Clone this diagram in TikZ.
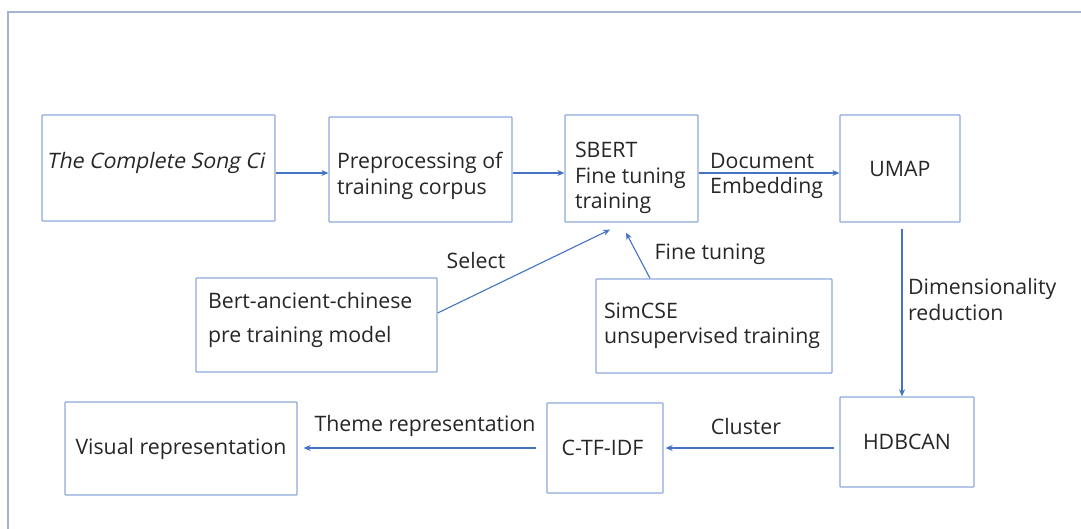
\documentclass[tikz,border=0pt]{standalone}
\usepackage{fontspec}
\setmainfont{Open Sans}
\newfontfamily\slantfont[FakeSlant=0.2]{Open Sans}
\usetikzlibrary{arrows.meta}
\definecolor{boxc}{HTML}{8EA9DB}
\definecolor{arrc}{HTML}{4472C4}
\definecolor{framec}{HTML}{A3B4D0}
\newcommand{\boxtext}[3]{\makebox[#1][l]{\raisebox{#2}[0pt][0pt]{\begin{tabular}{@{}l@{}}#3\end{tabular}}}}
\begin{document}
\begin{tikzpicture}[x=1pt,y=-1pt,
  box/.style={draw=boxc,line width=1.3pt,rounded corners=0.8pt,inner ysep=0pt,
    font=\fontsize{21.3}{25.5}\selectfont,text=black!85},
  lbox/.style={box,inner xsep=#1},
  arr/.style={draw=arrc,line width=1.1pt,-{Stealth[length=7pt,width=6pt]}},
  lab/.style={font=\fontsize{21.3}{25.5}\selectfont,text=black!85,inner sep=0pt}]
\useasboundingbox (0,0) rectangle (1081,529);
% frame
\draw[framec,line width=1.4pt] (8,529) -- (8,12) -- (1081,12);
% boxes
\node[box,inner xsep=0pt,minimum width=233pt,minimum height=106pt] (b1) at (158.5,168)
  {\hspace{-6pt}\raisebox{-1pt}[0pt][0pt]{\slantfont The Complete Song Ci}};
\node[lbox=8pt,minimum height=105pt] (b2) at (420.5,169.5)
  {\boxtext{167pt}{-12pt}{Preprocessing of\\training corpus}};
\node[lbox=10pt,minimum height=107pt] (b3) at (631.5,168.5)
  {\boxtext{113pt}{-15pt}{SBERT\\Fine tuning\\training}};
\node[box,minimum width=120pt,minimum height=107pt] (b4) at (900,168.5) {UMAP};
\node[lbox=12pt,minimum height=94pt] (bert) at (316.5,325)
  {\boxtext{217pt}{-0.5pt}{Bert-ancient-chinese\\[8.5pt]pre training model}};
\node[lbox=8pt,minimum height=94pt] (sim) at (714,326)
  {\boxtext{220pt}{-5pt}{SimCSE\\unsupervised training}};
\node[box,minimum width=232pt,minimum height=93pt] (vis) at (181,448.5) {Visual representation};
\node[box,minimum width=116pt,minimum height=90pt] (ctf) at (605,448) {\hspace{-5pt}C-TF-IDF};
\node[box,minimum width=134pt,minimum height=90pt] (hd) at (907,442) {HDBCAN};
% connectors
\draw[arr] ([yshift=-5pt]b1.east) -- ([yshift=-5pt]b1.east -| b2.west);
\draw[arr] ([yshift=-3.5pt]b2.east) -- ([yshift=-3.5pt]b2.east -| b3.west);
\draw[arr] ([yshift=-4.5pt]b3.east) -- ([yshift=-4.5pt]b3.east -| b4.west);
\node[lab,align=left,anchor=west] (de) at (710,176) {Document\\Embedding};
\coordinate (s1) at ([yshift=12pt]bert.east);
\coordinate (t1) at ([xshift=-21.5pt,yshift=-7pt]b3.south);
\draw[arr] (s1) -- (t1);
\node[lab] (sel) at (476,261) {Select};
\coordinate (s2) at ([xshift=-64pt]sim.north);
\coordinate (t2) at ([xshift=-5.5pt,yshift=-10pt]b3.south);
\draw[arr] (s2) -- (t2);
\node[lab] (ft) at (710,254) {Fine tuning};
\draw[arr] ([xshift=2pt,yshift=-6pt]b4.south) -- ([xshift=2pt]b4.south |- hd.north);
\node[lab,align=left,anchor=west] (dr) at (908,299.5) {Dimensionality\\reduction};
\draw[arr] ([yshift=-6pt,xshift=-5pt]hd.west) -- ([yshift=-6pt,xshift=2pt]hd.west -| ctf.east);
\node[lab] (cl) at (746,427) {Cluster};
\draw[arr] ([xshift=-10pt]ctf.west) -- ([xshift=6pt]ctf.west -| vis.east);
\node[lab] (tr) at (425,426) {Theme representation};
\end{tikzpicture}
\end{document}
